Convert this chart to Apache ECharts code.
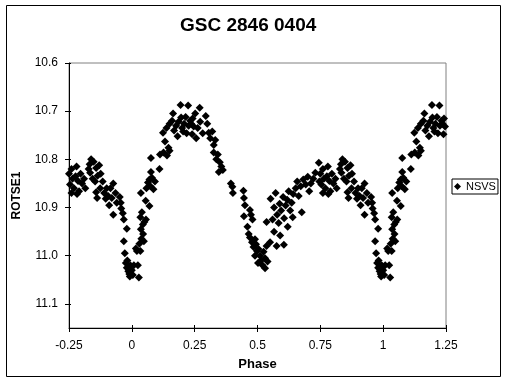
<!DOCTYPE html>
<html>
<head>
<meta charset="utf-8">
<script src="https://cdn.jsdelivr.net/npm/echarts@6/dist/echarts.min.js"></script>
<style>html,body{margin:0;padding:0;background:#fff}#c{width:507px;height:384px}</style>
</head>
<body>
<div id="c"></div>
<script>
// NSVS photometry folded on phase 0..1 : [phase, magnitude]
const nsvsBase = [
 [0.000,11.030],[0.004,11.040],[0.008,11.020],[0.024,11.020],[0.028,11.045],[0.016,10.985],[0.020,10.990],
 [0.030,10.975],[0.034,10.990],[0.038,10.965],[0.045,10.955],[0.048,10.970],[0.036,10.945],[0.034,10.920],
 [0.040,10.910],[0.050,10.930],[0.056,10.925],[0.044,10.935],[0.036,10.870],[0.055,10.886],[0.070,10.897],
 [0.058,10.860],[0.064,10.848],[0.070,10.842],[0.074,10.856],[0.080,10.838],[0.086,10.862],[0.092,10.846],
 [0.076,10.826],[0.110,10.820],[0.076,10.797],[0.112,10.790],[0.126,10.786],[0.140,10.792],[0.150,10.782],
 [0.132,10.763],[0.146,10.776],
 [0.124,10.745],[0.138,10.735],[0.150,10.726],[0.160,10.720],[0.168,10.740],[0.176,10.730],[0.182,10.752],
 [0.164,10.705],[0.194,10.687],[0.196,10.713],[0.208,10.726],[0.204,10.742],[0.218,10.746],[0.226,10.730],
 [0.232,10.720],[0.224,10.688],[0.242,10.715],[0.252,10.705],[0.270,10.693],[0.262,10.735],[0.240,10.748],
 [0.256,10.756],[0.272,10.722],[0.282,10.746],[0.294,10.710],[0.300,10.726],[0.200,10.735],[0.236,10.726],
 [0.214,10.712],[0.186,10.722],[0.246,10.732],
 [0.306,10.745],[0.312,10.756],[0.320,10.742],[0.326,10.770],[0.332,10.760],[0.326,10.786],[0.336,10.800],
 [0.342,10.790],[0.350,10.806],[0.346,10.826],[0.356,10.815],[0.362,10.822],[0.394,10.850],[0.400,10.857],
 [0.402,10.870],[0.444,10.865],[0.446,10.880],[0.450,10.895],[0.446,10.918],[0.470,10.905],[0.474,10.915],
 [0.480,10.925],
 [0.460,10.940],[0.465,10.955],[0.470,10.962],[0.478,10.972],[0.484,10.982],[0.490,10.966],[0.498,10.990],
 [0.494,10.976],[0.504,10.986],[0.510,11.000],[0.514,11.010],[0.520,11.020],[0.530,11.005],[0.524,10.992],
 [0.536,10.980],[0.540,11.012],[0.550,10.972],[0.502,11.015],[0.490,11.000],[0.530,11.026],[0.536,10.930],
 [0.552,10.882],[0.566,10.900],[0.572,10.870],[0.578,10.915],[0.584,10.932],[0.588,10.892],[0.594,10.906],
 [0.602,10.878],[0.606,10.922],[0.612,10.896],[0.618,10.884],[0.624,10.866],[0.605,10.977],[0.576,10.980],
 [0.590,10.958],[0.566,10.950],[0.630,10.906],[0.636,10.890],[0.642,10.872],[0.652,10.860],[0.658,10.846],
 [0.664,10.876],[0.676,10.910],[0.672,10.856],[0.682,10.842],[0.692,10.852],[0.700,10.836],[0.706,10.866],
 [0.712,10.850],[0.722,10.840],[0.730,10.828],[0.744,10.807],[0.746,10.846],[0.560,10.925],[0.620,10.940],
 [0.640,10.920],
 [0.750,10.830],[0.754,10.852],[0.760,10.820],[0.764,10.840],[0.770,10.860],[0.776,10.835],[0.780,10.815],
 [0.786,10.845],[0.790,10.866],[0.796,10.830],[0.802,10.850],[0.760,10.870],[0.782,10.872],[0.810,10.840],
 [0.815,10.860],
 [0.832,10.810],[0.838,10.800],[0.848,10.805],[0.858,10.818],[0.864,10.834],[0.854,10.846],[0.844,10.840],
 [0.834,10.828],[0.828,10.820],[0.870,10.812],[0.876,10.830],
 [0.858,10.868],[0.862,10.880],[0.874,10.860],[0.884,10.846],[0.890,10.870],[0.896,10.882],[0.900,10.860],
 [0.906,10.876],[0.910,10.895],[0.915,10.860],[0.920,10.880],[0.935,10.870],[0.940,10.890],[0.926,10.850],
 [0.926,10.915],[0.952,10.878],[0.956,10.890],[0.958,10.902],[0.964,10.912],[0.968,10.925],[0.980,10.944],
 [0.968,10.970],[0.972,10.995],[0.976,11.015],[0.980,11.025],[0.986,11.032],[0.990,11.038],[0.994,11.020],
 [0.982,11.010],[0.992,11.043]
];
const xTicks = [-0.25, 0, 0.25, 0.5, 0.75, 1, 1.25];
const yTicks = [10.6, 10.7, 10.8, 10.9, 11.0, 11.1];
const seriesName = 'NSVS';

// The chart repeats the folded curve a quarter cycle on each side
const points = [];
nsvsBase.forEach(([p, m]) => {
  points.push([p, m]);
  if (p >= 0.75) points.push([p - 1, m]);
  if (p <= 0.25) points.push([p + 1, m]);
});

const FF = '"Liberation Sans", Arial, sans-serif';
const chart = echarts.init(document.getElementById('c'), null, {renderer: 'canvas'});
chart.setOption({
  animation: false,
  backgroundColor: '#fff',
  title: {
    text: 'GSC 2846 0404', left: 175, top: 11,
    textStyle: {fontFamily: FF, fontWeight: 'bold', fontSize: 19, color: '#000'}
  },
  grid: {left: 69, top: 63, width: 377, height: 265, show: true, borderColor: '#808080', borderWidth: 1},
  legend: {
    data: [seriesName], left: 452, top: 179, icon: 'diamond',
    itemWidth: 7, itemHeight: 7, padding: [2, 2, 2, 2],
    borderColor: '#000', borderWidth: 1, borderRadius: 0,
    textStyle: {fontFamily: FF, fontSize: 11, color: '#000'}
  },
  xAxis: [{
    type: 'value', min: xTicks[0], max: xTicks[xTicks.length - 1], interval: 0.25, position: 'bottom',
    axisLine: {onZero: false, lineStyle: {color: '#000', width: 1}},
    axisTick: {length: 4, lineStyle: {color: '#000'}},
    axisLabel: {color: '#000', fontFamily: FF, fontSize: 12, margin: 12},
    splitLine: {show: false},
    name: 'Phase', nameLocation: 'middle', nameGap: 30,
    nameTextStyle: {fontFamily: FF, fontWeight: 'bold', fontSize: 13, color: '#000'}
  }, {
    type: 'value', min: xTicks[0], max: xTicks[xTicks.length - 1], interval: 0.25, position: 'bottom',
    axisLine: {show: false, onZero: false}, axisLabel: {show: false}, splitLine: {show: false},
    axisTick: {inside: true, length: 3, lineStyle: {color: '#000'}}
  }],
  yAxis: [{
    type: 'value', inverse: true, min: 10.6, max: 11.15, interval: 0.1, position: 'left',
    axisLine: {show: true, onZero: false, lineStyle: {color: '#000', width: 1}},
    axisTick: {show: true, length: 4, lineStyle: {color: '#000'}, customValues: yTicks},
    axisLabel: {color: '#000', fontFamily: FF, fontSize: 12, margin: 11, customValues: yTicks,
      formatter: v => Number(v).toFixed(1)},
    splitLine: {show: false},
    name: 'ROTSE1', nameLocation: 'middle', nameGap: 46, nameRotate: 90,
    nameTextStyle: {fontFamily: FF, fontWeight: 'bold', fontSize: 12, color: '#000'}
  }, {
    type: 'value', inverse: true, min: 10.6, max: 11.15, interval: 0.1, position: 'left',
    axisLine: {show: false, onZero: false}, axisLabel: {show: false}, splitLine: {show: false},
    axisTick: {show: true, inside: true, length: 2, lineStyle: {color: '#000'}, customValues: yTicks}
  }],
  graphic: [{
    type: 'rect', silent: true, z: 100,
    shape: {x: 6.5, y: 5.5, width: 494, height: 371},
    style: {fill: 'none', stroke: '#000', lineWidth: 1}
  }],
  series: [{
    type: 'scatter', name: seriesName, data: points, xAxisIndex: 0, yAxisIndex: 0,
    symbol: 'diamond', symbolSize: 8, itemStyle: {color: '#000', opacity: 1}
  }]
});
</script>
</body>
</html>
